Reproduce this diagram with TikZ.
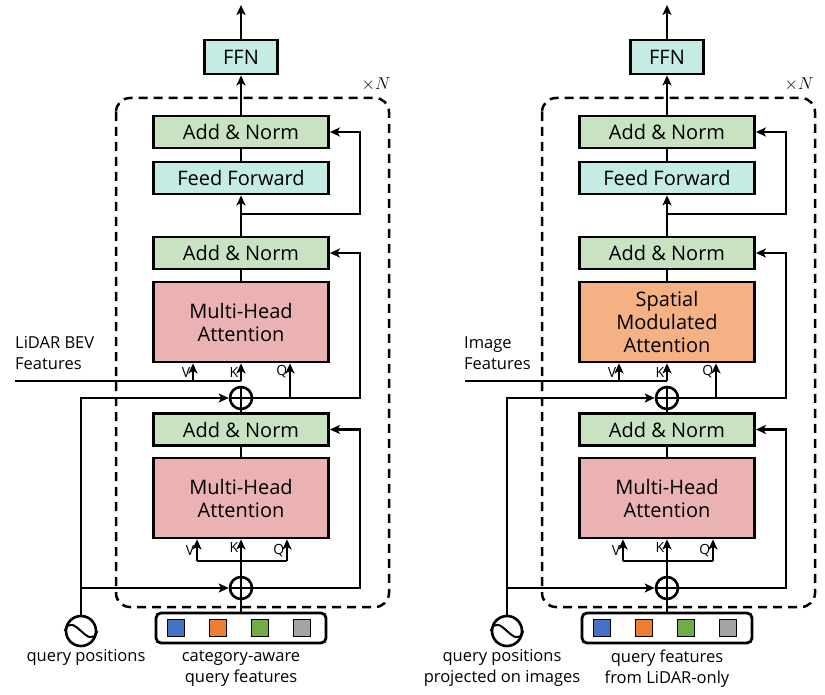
\documentclass[tikz,border=0pt]{standalone}
\usepackage{fontspec}
\setmainfont{Open Sans}
\usepackage{tikz}
\usetikzlibrary{positioning, shapes.geometric, arrows.meta, calc}
\definecolor{normgreen}{RGB}{200,226,194}
\definecolor{ffcyan}{RGB}{197,235,229}
\definecolor{attpink}{RGB}{234,178,178}
\definecolor{smaorange}{RGB}{244,177,131}
\definecolor{qblue}{RGB}{68,114,196}
\definecolor{qorange}{RGB}{237,125,49}
\definecolor{qgreen}{RGB}{112,173,71}
\definecolor{qgray}{RGB}{165,165,165}
\def\bw{175pt}
\tikzstyle{addnorm} = [rectangle, minimum width=\bw, minimum height=32pt, text centered, draw=black, line width=2.8pt, fill=normgreen, font=\fontsize{20}{23}\selectfont]
\tikzstyle{ffwd} = [rectangle, minimum width=\bw, minimum height=32pt, text centered, draw=black, line width=2.8pt, fill=ffcyan, font=\fontsize{20}{23}\selectfont]
\tikzstyle{ffn} = [rectangle, minimum width=73pt, minimum height=34pt, text centered, draw=black, line width=2.8pt, fill=ffcyan, font=\fontsize{20}{23}\selectfont]
\tikzstyle{mha} = [rectangle, minimum width=\bw, minimum height=80pt, align=center, draw=black, line width=2.8pt, fill=attpink, font=\fontsize{20}{23}\selectfont]
\tikzstyle{sma} = [mha, fill=smaorange]
\tikzstyle{add} = [circle, minimum size=22pt, inner sep=0pt, draw=black, line width=2.6pt, fill=white,
  path picture={\draw[line width=2.6pt] (path picture bounding box.north) -- (path picture bounding box.south) (path picture bounding box.west) -- (path picture bounding box.east);}]
\tikzstyle{qpos} = [circle, minimum size=30pt, inner sep=0pt, draw=black, line width=2.6pt]
\tikzstyle{qfeat} = [rectangle, rounded corners=5pt, minimum width=170pt, minimum height=30pt, draw=black, line width=2.8pt]
\tikzstyle{sq} = [rectangle, minimum size=17pt, inner sep=0pt, draw=black, line width=1.3pt]
\tikzstyle{line} = [line width=2.6pt]
\tikzstyle{arrow} = [line width=2.6pt, ->, >={Stealth[length=10pt, width=9pt, inset=2.5pt]}]
\tikzstyle{dashbox} = [line width=2.5pt, dash pattern=on 9pt off 6pt, rounded corners=14pt]
\tikzstyle{vkq} = [anchor=east, inner sep=1.5pt, font=\fontsize{14}{15}\selectfont]
\tikzstyle{lbl} = [font=\fontsize{16.5}{21}\selectfont, align=center, inner sep=0pt]

\begin{document}
\begin{tikzpicture}[x=1pt, y={(0pt,-1pt)}]
\useasboundingbox (0,0) rectangle (825,695);

%%% left: LiDAR-only decoder
\node (ffnL) [ffn] at (241,57) {FFN};
\node (an3L) [addnorm] at (241,132) {Add \& Norm};
\node (ffL) [ffwd] at (241,178) {Feed Forward};
\node (an2L) [addnorm] at (241,253) {Add \& Norm};
\node (mha2L) [mha] at (241,322) {Multi-Head\\Attention};
\node (sum2L) [add] at (241,398) {};
\node (an1L) [addnorm] at (241,429.5) {Add \& Norm};
\node (mha1L) [mha] at (241,498) {Multi-Head\\Attention};
\node (sum1L) [add] at (241,588) {};
\node (qfeatL) [qfeat] at (241,628) {};
\node (qposL) [qpos] at (81,631) {};
\draw [line width=2pt] (qposL.west) .. controls +(8,-22) and +(-8,22) .. (qposL.east);
\node [sq, fill=qblue] at (176,628) {};
\node [sq, fill=qorange] at (218,628) {};
\node [sq, fill=qgreen] at (260,628) {};
\node [sq, fill=qgray] at (302,628) {};
\draw [dashbox] (116,98) rectangle (389,607);
\node at (376,84) {\fontsize{17}{18}\selectfont$\times N$};

\coordinate (outL) at (241,5);
\draw [arrow] (ffnL) -- (outL);
\draw [arrow] (an3L) -- (ffnL);
\draw [line] (ffL) -- (an3L);
\draw [arrow] (an2L) -- (ffL);
\coordinate (br3L) at (241,214);
\coordinate (rt3L) at (360,214);
\draw [arrow] (br3L) -- (rt3L) |- (an3L.east);
\draw [line] (mha2L) -- (an2L);

\node (bevL) [lbl, anchor=west, align=left] at (15,353) {LiDAR BEV\\Features};
\coordinate (featL) at (15,381);
\coordinate (v2L) at (193,381);
\coordinate (k2L) at (241,381);
\draw [line] (featL) -- (k2L);
\draw [arrow] (v2L) -- node[vkq] {V} (v2L |- mha2L.south);
\draw [arrow] (k2L) -- node[vkq] {K} (mha2L.south);
\coordinate (q2L) at (290,398);
\coordinate (rt2L) at (360,398);
\draw [arrow] (sum2L.east) -- (rt2L) |- (an2L.east);
\draw [arrow] (q2L) -- node[vkq, pos=0.75] {Q} (q2L |- mha2L.south);
\draw [line] (an1L) -- (sum2L);
\draw [line] (mha1L) -- (an1L);

\draw [arrow] (sum1L.north) -- node[vkq, pos=0.77] {K} (mha1L.south);
\coordinate (v1L) at (197,561);
\coordinate (q1L) at (287,561);
\draw [line] (v1L) -- (q1L);
\draw [arrow] (v1L) -- node[vkq] {V} (v1L |- mha1L.south);
\draw [arrow] (q1L) -- node[vkq] {Q} (q1L |- mha1L.south);
\coordinate (rt1L) at (360,588);
\draw [arrow] (sum1L.east) -- (rt1L) |- (an1L.east);
\draw [line] (qfeatL) -- (sum1L);
\draw [arrow] (qposL.north) |- (sum2L.west);
\draw [arrow] (qposL.north |- sum1L) -- (sum1L.west);

\node [lbl] at (86,657) {query positions};
\node [lbl] at (241,669) {category-aware\\query features};

%%% right: image fusion decoder
\node (ffnR) [ffn] at (667,57) {FFN};
\node (an3R) [addnorm] at (667,132) {Add \& Norm};
\node (ffR) [ffwd] at (667,178) {Feed Forward};
\node (an2R) [addnorm] at (667,253) {Add \& Norm};
\node (smaR) [sma] at (667,322) {Spatial\\Modulated\\Attention};
\node (sum2R) [add] at (667,398) {};
\node (an1R) [addnorm] at (667,429.5) {Add \& Norm};
\node (mha1R) [mha] at (667,498) {Multi-Head\\Attention};
\node (sum1R) [add] at (667,588) {};
\node (qfeatR) [qfeat] at (667,628) {};
\node (qposR) [qpos] at (507,631) {};
\draw [line width=2pt] (qposR.west) .. controls +(8,-22) and +(-8,22) .. (qposR.east);
\node [sq, fill=qblue] at (602,628) {};
\node [sq, fill=qorange] at (644,628) {};
\node [sq, fill=qgreen] at (686,628) {};
\node [sq, fill=qgray] at (728,628) {};
\draw [dashbox] (542,98) rectangle (815,607);
\node at (799,84) {\fontsize{17}{18}\selectfont$\times N$};

\coordinate (outR) at (667,5);
\draw [arrow] (ffnR) -- (outR);
\draw [arrow] (an3R) -- (ffnR);
\draw [line] (ffR) -- (an3R);
\draw [arrow] (an2R) -- (ffR);
\coordinate (br3R) at (667,214);
\coordinate (rt3R) at (786,214);
\draw [arrow] (br3R) -- (rt3R) |- (an3R.east);
\draw [line] (smaR) -- (an2R);

\node (imgR) [lbl, anchor=west, align=left] at (464,353) {Image\\Features};
\coordinate (featR) at (465,381);
\coordinate (v2R) at (619,381);
\coordinate (k2R) at (667,381);
\draw [line] (featR) -- (k2R);
\draw [arrow] (v2R) -- node[vkq] {V} (v2R |- smaR.south);
\draw [arrow] (k2R) -- node[vkq] {K} (smaR.south);
\coordinate (q2R) at (716,398);
\coordinate (rt2R) at (786,398);
\draw [arrow] (sum2R.east) -- (rt2R) |- (an2R.east);
\draw [arrow] (q2R) -- node[vkq, pos=0.75] {Q} (q2R |- smaR.south);
\draw [line] (an1R) -- (sum2R);
\draw [line] (mha1R) -- (an1R);

\draw [arrow] (sum1R.north) -- node[vkq, pos=0.77] {K} (mha1R.south);
\coordinate (v1R) at (623,561);
\coordinate (q1R) at (713,561);
\draw [line] (v1R) -- (q1R);
\draw [arrow] (v1R) -- node[vkq] {V} (v1R |- mha1R.south);
\draw [arrow] (q1R) -- node[vkq] {Q} (q1R |- mha1R.south);
\coordinate (rt1R) at (786,588);
\draw [arrow] (sum1R.east) -- (rt1R) |- (an1R.east);
\draw [line] (qfeatR) -- (sum1R);
\draw [arrow] (qposR.north) |- (sum2R.west);
\draw [arrow] (qposR.north |- sum1R) -- (sum1R.west);

\node [lbl] at (502,668) {query positions\\projected on images};
\node [lbl] at (667,669) {query features\\from LiDAR-only};

\end{tikzpicture}
\end{document}
